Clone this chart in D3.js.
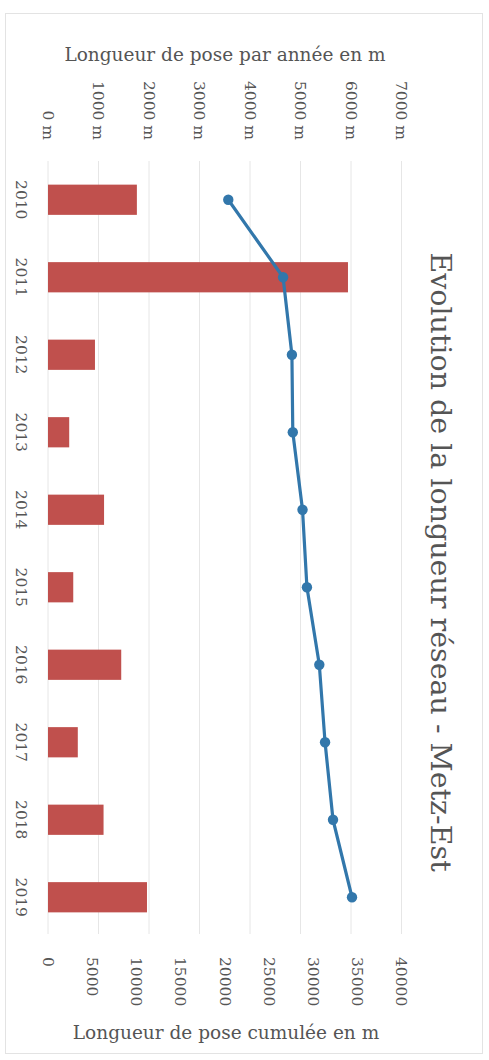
<!DOCTYPE html>
<html><head><meta charset="utf-8">
<script src="https://cdn.jsdelivr.net/npm/d3@7"></script>
<style>html,body{margin:0;padding:0;background:#fff;}svg{display:block;}</style>
</head><body>
<svg id="c" width="489" height="1060"></svg>
<script>
const years = ["2010","2011","2012","2013","2014","2015","2016","2017","2018","2019"];
const poseAnnee = [1760, 5940, 930, 420, 1110, 500, 1450, 590, 1100, 1960];
const poseCumulee = [20400, 26600, 27600, 27700, 28800, 29300, 30700, 31350, 32250, 34400];
const ticksAnnee = [0,1000,2000,3000,4000,5000,6000,7000];
const ticksCumul = [0,5000,10000,15000,20000,25000,30000,35000,40000];
const title = "Evolution de la longueur réseau - Metz-Est";
const titleAnnee = "Longueur de pose par année en m";
const titleCumul = "Longueur de pose cumulée en m";

const svg = d3.select("#c");
const txt = "#555555", font = "DejaVu Serif";

svg.append("rect").attr("x",5.5).attr("y",13.5).attr("width",477).attr("height",1040)
  .attr("fill","#fff").attr("stroke","#e3e3e3");

const xA = d3.scaleLinear().domain([0,7000]).range([48,401.5]);
const xC = d3.scaleLinear().domain([0,40000]).range([48,401.5]);
const y = d3.scaleBand().domain(years).range([161,936]).paddingInner(0.61).paddingOuter(0.305);
const plotTop = 161, plotBottom = 934;

// gridlines
svg.append("g").selectAll("line").data(ticksAnnee).join("line")
  .attr("x1",d=>xA(d)).attr("x2",d=>xA(d)).attr("y1",plotTop).attr("y2",plotBottom)
  .attr("stroke","#e6e6e6").attr("stroke-width",1);

// top axis (annual), rotated labels
const axTop = svg.append("g").attr("transform","translate(0,140)")
  .call(d3.axisTop(xA).tickValues(ticksAnnee).tickFormat(d=>d+" m").tickSize(0));
axTop.select(".domain").remove();
axTop.selectAll("text").attr("y",null).attr("x",0)
  .attr("transform","rotate(90)")
  .attr("text-anchor","end").attr("dy","0.36em")
  .attr("fill",txt).style("font-family",font).style("font-size","15.5px");

// bottom axis (cumulative)
const axBot = svg.append("g").attr("transform","translate(0,957)")
  .call(d3.axisBottom(xC).tickValues(ticksCumul).tickFormat(d=>String(d)).tickSize(0));
axBot.select(".domain").remove();
axBot.selectAll("text").attr("y",null).attr("x",0)
  .attr("transform","rotate(90)")
  .attr("text-anchor","start").attr("dy","0.36em")
  .attr("fill",txt).style("font-family",font).style("font-size","15.5px");

// left category axis
const axL = svg.append("g").attr("transform","translate(22,0)")
  .call(d3.axisLeft(y).tickSize(0).tickPadding(0));
axL.select(".domain").remove();
axL.selectAll("text").attr("x",0).attr("dy","0.36em")
  .attr("transform","rotate(90)").attr("text-anchor","middle")
  .attr("fill",txt).style("font-family",font).style("font-size","15.5px");

// bars
svg.append("g").selectAll("rect").data(years).join("rect")
  .attr("x",xA(0)).attr("y",d=>y(d))
  .attr("width",(d,i)=>xA(poseAnnee[i])-xA(0)).attr("height",y.bandwidth())
  .attr("fill","#c0504d");

// line
const pts = years.map((d,i)=>[xC(poseCumulee[i]), y(d)+y.bandwidth()/2]);
svg.append("path").attr("d",d3.line()(pts)).attr("fill","none")
  .attr("stroke","#3277ab").attr("stroke-width",3.2).attr("stroke-linejoin","round");
svg.append("g").selectAll("circle").data(pts).join("circle")
  .attr("cx",d=>d[0]).attr("cy",d=>d[1]).attr("r",5.2).attr("fill","#3277ab");

// titles
svg.append("text").attr("transform","translate(441,562) rotate(90)")
  .attr("text-anchor","middle").attr("dy","0.36em")
  .attr("fill",txt).style("font-family",font).style("font-size","28.5px").text(title);
svg.append("text").attr("x",225).attr("y",61).attr("text-anchor","middle")
  .attr("fill",txt).style("font-family",font).style("font-size","18.5px").text(titleAnnee);
svg.append("text").attr("x",226).attr("y",1039).attr("text-anchor","middle")
  .attr("fill",txt).style("font-family",font).style("font-size","18.5px").text(titleCumul);
</script>
</body></html>
